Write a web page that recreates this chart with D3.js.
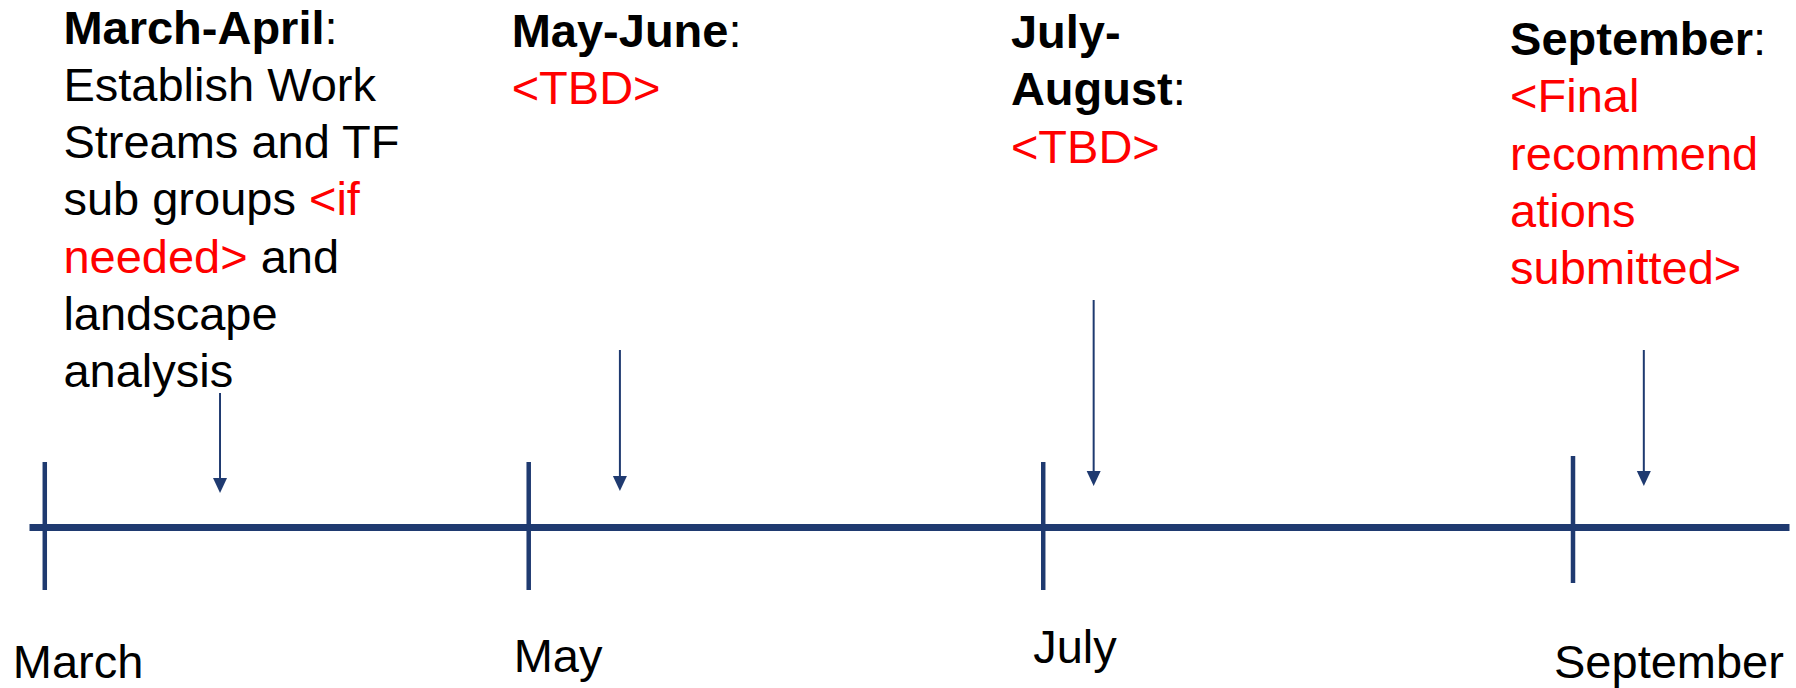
<!DOCTYPE html>
<html>
<head>
<meta charset="utf-8">
<script src="https://cdn.jsdelivr.net/npm/d3@7"></script>
<style>
    body { margin: 0; background: #fff; }
    svg { display: block; }
</style>
</head>
<body>
<div id="chart"></div>
<script>
// Months marked on the timeline (3 = March)
const months = ['March', 'May', 'July', 'September'];
const monthPos = [3, 4.9, 6.92, 9];
const timeSpan = [2.94, 9.85];

// Periods written above the line
const periodNames = [['March-April'], ['May-June'], ['July-', 'August'], ['September']];
const periodNotes = [
    ['Establish Work', 'Streams and TF', 'sub groups <if', 'needed> and', 'landscape', 'analysis'],
    ['<TBD>'],
    ['<TBD>'],
    ['<Final', 'recommend', 'ations', 'submitted>']
];
const notePos = [3.075, 4.835, 6.795, 8.755];
const arrowPos = [3.69, 5.26, 7.12, 9.28];

const WIDTH = 1796;
const HEIGHT = 688;
const AXIS_Y = 527;
const LINE_H = 57.3;
const FONT_SIZE = 47;
const FONT = '"Liberation Sans", Arial, sans-serif';
const NAVY = '#1f3a70';
const RED = '#ff0000';

// hand placed bits of the slide
const blockTop = [43.5, 47, 48, 55];
const arrowTop = [393, 350, 300, 350];
const arrowTip = [493, 491, 486, 486];
const tickSpan = [[-65, 63], [-65, 63], [-65, 63], [-71, 56]];
const labelDx = [-32, -15, -10, -19];
const labelDy = [151, 145, 136, 151];

const svg = d3.select('#chart')
    .append('svg')
    .attr('width', WIDTH)
    .attr('height', HEIGHT)
    .style('font-family', FONT);

const x = d3.scaleLinear()
    .domain(timeSpan)
    .range([29, 1789]);

// Timeline axis
const axis = d3.axisBottom(x)
    .tickValues(monthPos)
    .tickSizeInner(0)
    .tickSizeOuter(0)
    .tickFormat((d, i) => months[i]);

const gAxis = svg.append('g')
    .attr('transform', `translate(0, ${AXIS_Y})`)
    .call(axis)
    .attr('font-family', FONT)
    .attr('font-size', FONT_SIZE);

gAxis.select('.domain')
    .attr('stroke', NAVY)
    .attr('stroke-width', 7);

gAxis.selectAll('.tick line')
    .attr('y1', (d, i) => tickSpan[i][0])
    .attr('y2', (d, i) => tickSpan[i][1])
    .attr('stroke', NAVY)
    .attr('stroke-width', 4.5);

gAxis.selectAll('.tick text')
    .attr('text-anchor', 'start')
    .attr('x', (d, i) => labelDx[i])
    .attr('y', (d, i) => labelDy[i])
    .attr('dy', null)
    .attr('fill', '#000');

// Split a line into black / red parts, red being anything inside < >
function splitLine(line, state) {
    const parts = [];
    let cur = '';
    let red = state.red;
    for (const ch of line) {
        if (ch === '<' && !red) {
            if (cur) parts.push({ text: cur, red: false });
            cur = ch;
            red = true;
        } else if (ch === '>' && red) {
            cur += ch;
            parts.push({ text: cur, red: true });
            cur = '';
            red = false;
        } else {
            cur += ch;
        }
    }
    if (cur) parts.push({ text: cur, red: red });
    state.red = red;
    return parts;
}

// Text blocks
periodNames.forEach((names, i) => {
    const g = svg.append('g')
        .attr('class', 'period')
        .attr('font-size', FONT_SIZE);
    const tx = x(notePos[i]);
    let row = 0;

    names.forEach((name, j) => {
        const t = g.append('text')
            .attr('x', tx)
            .attr('y', blockTop[i] + row * LINE_H)
            .attr('fill', '#000');
        t.append('tspan')
            .attr('font-weight', 'bold')
            .text(name);
        if (j === names.length - 1) {
            t.append('tspan').text(':');
        }
        row++;
    });

    const state = { red: false };
    periodNotes[i].forEach(line => {
        const t = g.append('text')
            .attr('x', tx)
            .attr('y', blockTop[i] + row * LINE_H)
            .style('white-space', 'pre');
        splitLine(line, state).forEach(p => {
            t.append('tspan')
                .attr('fill', p.red ? RED : '#000')
                .text(p.text);
        });
        row++;
    });
});

// Arrows pointing at the line
const gArrows = svg.selectAll('g.arrow')
    .data(arrowPos)
    .join('g')
        .attr('class', 'arrow');

gArrows.append('line')
    .attr('x1', d => x(d))
    .attr('x2', d => x(d))
    .attr('y1', (d, i) => arrowTop[i])
    .attr('y2', (d, i) => arrowTip[i] - 12)
    .attr('stroke', NAVY)
    .attr('stroke-width', 2);

gArrows.append('path')
    .attr('d', (d, i) => {
        const ax = x(d), ty = arrowTip[i];
        return `M${ax - 7},${ty - 15}L${ax + 7},${ty - 15}L${ax},${ty}Z`;
    })
    .attr('fill', NAVY);
</script>
</body>
</html>
